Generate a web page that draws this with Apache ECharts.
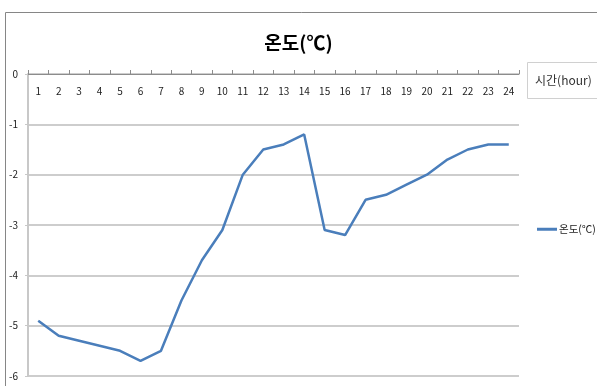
<!DOCTYPE html>
<html>
<head>
<meta charset="utf-8">
<script src="https://cdn.jsdelivr.net/npm/echarts@6/dist/echarts.min.js"></script>
<style>
  html, body { margin: 0; padding: 0; background: #fff; overflow: hidden; }
  #chart { width: 597px; height: 386px; }
</style>
</head>
<body>
<div id="chart"></div>
<script>
// Hourly temperature (°C), hours 1..24
const hours = ['1','2','3','4','5','6','7','8','9','10','11','12','13','14','15','16','17','18','19','20','21','22','23','24'];
const temperature = [-4.9, -5.2, -5.3, -5.4, -5.5, -5.7, -5.5, -4.5, -3.7, -3.1, -2.0, -1.5, -1.4, -1.2, -3.1, -3.2, -2.5, -2.4, -2.2, -2.0, -1.7, -1.5, -1.4, -1.4];
const seriesName = '온도(℃)';
const titleText = '온도(℃)';
const xAxisName = '시간(hour)';

const FONT = '"Noto Sans CJK KR", "Noto Sans", sans-serif';
const chart = echarts.init(document.getElementById('chart'));

chart.setOption({
  backgroundColor: '#fff',
  animation: false,
  textStyle: { fontFamily: FONT },
  graphic: [
    {
      // chart frame
      type: 'rect',
      shape: { x: 5.5, y: 12.5, width: 620, height: 400 },
      style: { fill: 'none', stroke: '#868686', lineWidth: 1 },
      silent: true
    },
    {
      // frame around the x-axis title
      type: 'rect',
      shape: { x: 527.5, y: 62.5, width: 80, height: 36 },
      style: { fill: 'none', stroke: '#d0d0d0', lineWidth: 1 },
      silent: true
    }
  ],
  title: {
    text: titleText,
    left: 'center',
    top: 28,
    textStyle: { fontSize: 19, fontWeight: 'bold', color: '#000', fontFamily: FONT }
  },
  legend: {
    orient: 'vertical',
    left: 532,
    top: 219,
    icon: 'rect',
    itemWidth: 20,
    itemHeight: 3,
    itemGap: 4,
    textStyle: { fontSize: 10.5, color: '#222', fontFamily: FONT, padding: [0, 0, 0, -3] },
    data: [seriesName]
  },
  grid: { left: 28, right: 78, top: 74, bottom: 10, containLabel: false, outerBoundsMode: 'none' },
  xAxis: {
    type: 'category',
    data: hours,
    position: 'top',
    boundaryGap: true,
    axisLine: { show: true, onZero: false, lineStyle: { color: '#8c8c8c', width: 1 } },
    axisTick: { show: true, inside: false, length: 4, lineStyle: { color: '#8c8c8c' } },
    axisLabel: { inside: true, margin: 12, fontSize: 10, color: '#222', fontFamily: FONT, interval: 0 },
    splitLine: { show: false },
    name: xAxisName,
    nameLocation: 'end',
    nameGap: 16,
    nameTextStyle: {
      fontSize: 12,
      color: '#333',
      fontFamily: FONT,
      verticalAlign: 'top',
      align: 'left'
    }
  },
  yAxis: {
    type: 'value',
    min: -6,
    max: 0,
    interval: 1,
    axisLine: { show: true, lineStyle: { color: '#c8c8c8', width: 2 } },
    axisTick: { show: true, length: 3, lineStyle: { color: '#c8c8c8' } },
    axisLabel: { fontSize: 10, color: '#222', margin: 10, fontFamily: FONT },
    splitLine: { show: true, lineStyle: { color: '#bdbdbd', width: 1.5 } }
  },
  series: [{
    name: seriesName,
    type: 'line',
    data: temperature,
    symbol: 'none',
    lineStyle: { color: '#4a7ebb', width: 2.5 },
    itemStyle: { color: '#4a7ebb' }
  }]
});
</script>
</body>
</html>
